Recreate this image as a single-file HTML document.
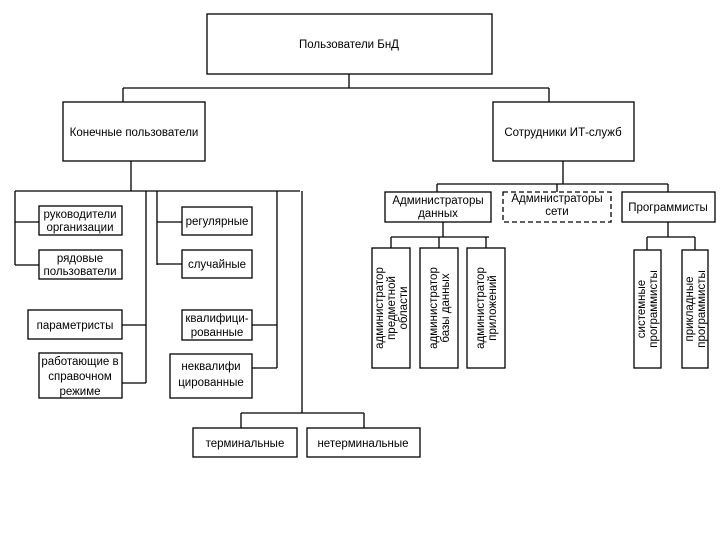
<!DOCTYPE html>
<html><head><meta charset="utf-8"><style>
html,body{margin:0;padding:0;background:#fff;}
svg{display:block;}
text{font-family:"Liberation Sans",sans-serif;font-size:11.5px;fill:#000;}
</style></head><body>
<svg width="720" height="540" viewBox="0 0 720 540" xmlns="http://www.w3.org/2000/svg">
<g fill="#fff" stroke="#000" stroke-width="1.3">
<rect x="207" y="14" width="285" height="60"/>
<rect x="63" y="102" width="142" height="59"/>
<rect x="493" y="102" width="141" height="59"/>
<rect x="39" y="206" width="83" height="29"/>
<rect x="39" y="250" width="83" height="29"/>
<rect x="28" y="310" width="94" height="29"/>
<rect x="39" y="353" width="83" height="45"/>
<rect x="182" y="207" width="70" height="28"/>
<rect x="182" y="250" width="70" height="28"/>
<rect x="182" y="310" width="70" height="30"/>
<rect x="170" y="354" width="82" height="44"/>
<rect x="193" y="428" width="104" height="29"/>
<rect x="307" y="428" width="113" height="29"/>
<rect x="385" y="192" width="106" height="30"/>
<rect x="503" y="192" width="108" height="30" stroke-dasharray="5,3"/>
<rect x="622" y="192" width="93" height="30"/>
<rect x="372" y="248" width="38" height="120"/>
<rect x="420" y="248" width="38" height="120"/>
<rect x="467" y="248" width="38" height="120"/>
<rect x="634" y="250" width="27" height="118"/>
<rect x="682" y="250" width="26" height="118"/>
</g>
<g fill="none" stroke="#000" stroke-width="1.3">
<path d="M349 74V88M123 88H549M123 88V102M549 88V102"/>
<path d="M131 161V191M15 191H300M15 191V265M15 222H39M15 265H39"/>
<path d="M146 191V383M122 325H146M122 383H146"/>
<path d="M157 191V265M157 222H182M157 264H182"/>
<path d="M277 191V368M252 325H277M252 368H277"/>
<path d="M302 191V413M241 413H364M241 413V428M364 413V428"/>
<path d="M563 161V184M437 184H668M437 184V192M557 184V192M668 184V192"/>
<path d="M443 222V237M391 237H489M391 237V248M439 237V248M486 237V248"/>
<path d="M668 222V237M647 237H695M647 237V250M695 237V250"/>
</g>
<g text-anchor="middle">
<text x="349" y="48">Пользователи БнД</text>
<text x="134" y="136">Конечные пользователи</text>
<text x="563" y="136">Сотрудники ИТ-служб</text>
<text x="80" y="218">руководители</text><text x="80" y="231">организации</text>
<text x="80" y="262">рядовые</text><text x="80" y="275">пользователи</text>
<text x="75" y="329">параметристы</text>
<text x="80" y="365">работающие в</text><text x="80" y="380">справочном</text><text x="80" y="395">режиме</text>
<text x="217" y="225">регулярные</text>
<text x="217" y="268">случайные</text>
<text x="217" y="322">квалифици-</text><text x="217" y="336">рованные</text>
<text x="211" y="370">неквалифи</text><text x="211" y="386">цированные</text>
<text x="245" y="447">терминальные</text>
<text x="363" y="447">нетерминальные</text>
<text x="438" y="204">Администраторы</text><text x="438" y="217">данных</text>
<text x="557" y="202">Администраторы</text><text x="557" y="215">сети</text>
<text x="668" y="211">Программисты</text>
<g transform="translate(391,308) rotate(-90)"><text x="0" y="-8">администратор</text><text x="0" y="4">предметной</text><text x="0" y="16">области</text></g>
<g transform="translate(439,308) rotate(-90)"><text x="0" y="-2">администратор</text><text x="0" y="10">базы данных</text></g>
<g transform="translate(486,308) rotate(-90)"><text x="0" y="-2">администратор</text><text x="0" y="10">приложений</text></g>
<g transform="translate(647,309) rotate(-90)"><text x="0" y="-2">системные</text><text x="0" y="10">программисты</text></g>
<g transform="translate(695,309) rotate(-90)"><text x="0" y="-2">прикладные</text><text x="0" y="10">программисты</text></g>
</g>
</svg>
</body></html>
